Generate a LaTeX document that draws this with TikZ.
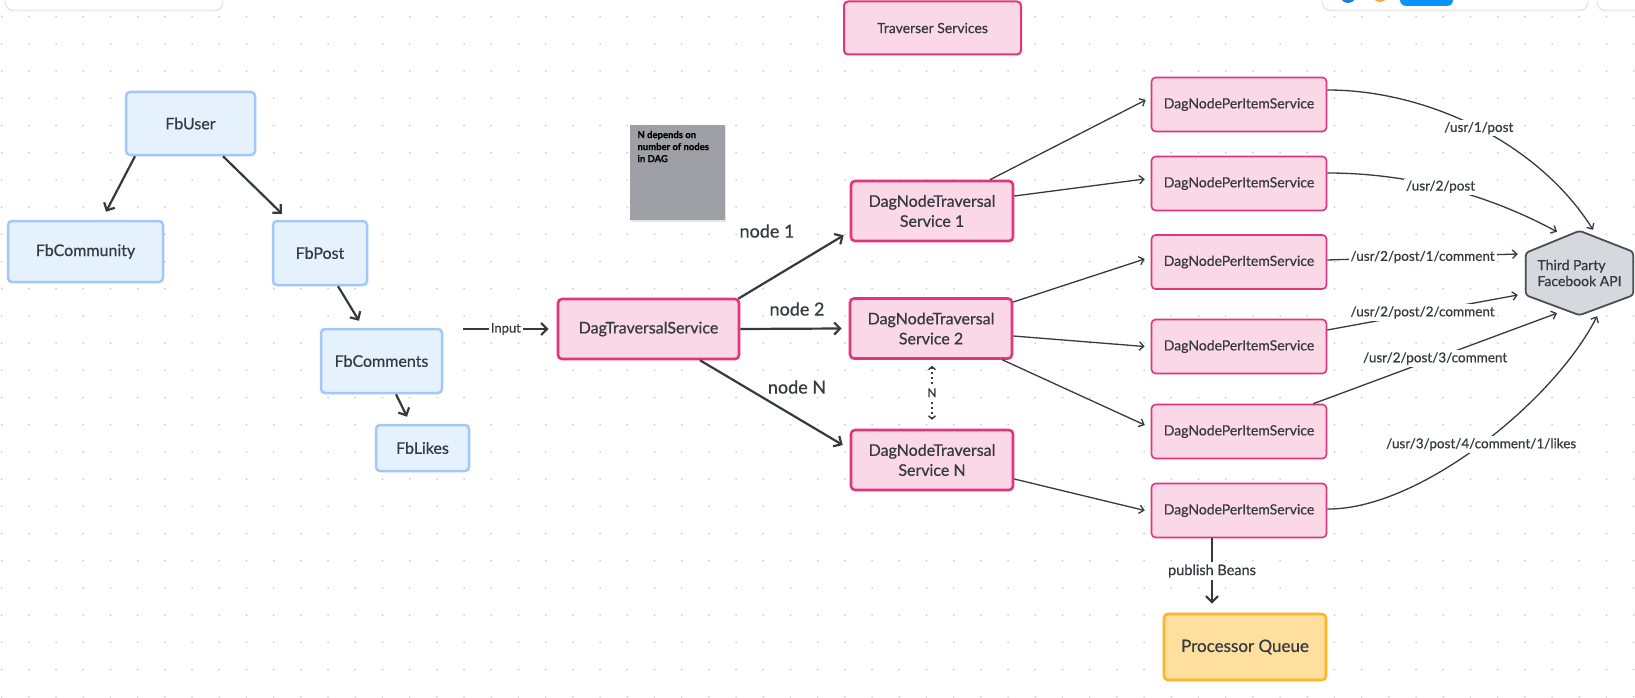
\documentclass[tikz,border=0pt]{standalone}
\usepackage{fontspec}
\setmainfont{Lato}[FakeBold=0.6]
\usetikzlibrary{arrows.meta,shadows}
\pgfdeclarelayer{dots}
\pgfdeclarelayer{background}
\pgfsetlayers{dots,background,main}
\definecolor{ink}{HTML}{363A40}
\definecolor{blueS}{HTML}{A3C8F8}
\definecolor{blueF}{HTML}{E6F1FE}
\definecolor{pinkS}{HTML}{E2367A}
\definecolor{pinkF}{HTML}{FAD8E7}
\definecolor{yelS}{HTML}{FDB52A}
\definecolor{yelF}{HTML}{FFDF9E}
\definecolor{hexF}{HTML}{D5D8DD}
\definecolor{hexS}{HTML}{4A4F57}
\definecolor{noteF}{HTML}{9EA0A5}
\definecolor{dotC}{HTML}{C8C8C8}
\definecolor{uiS}{HTML}{E2E2E2}
\definecolor{uiBlue}{HTML}{0A93FF}
\definecolor{uiDot}{HTML}{1E7FE0}
\definecolor{uiOrange}{HTML}{FFA53D}
\tikzset{
  box/.style={rounded corners=4pt, align=center, text=ink, inner sep=0pt},
  bluebox/.style={box, draw=blueS, fill=blueF, line width=2.5pt, font=\fontsize{16pt}{19pt}\selectfont},
  pinkbig/.style={box, draw=pinkS, fill=pinkF, line width=2.6pt, minimum width=162pt, minimum height=60pt, font=\fontsize{16pt}{20pt}\selectfont},
  pinksmall/.style={box, draw=pinkS, fill=pinkF, line width=1.6pt, minimum width=175pt, minimum height=54pt, font=\fontsize{14pt}{17pt}\selectfont},
  conn/.style={draw=ink, line width=2.2pt, -{Straight Barb[length=6pt,width=12pt]}},
  thinconn/.style={draw=ink, line width=1.3pt, -{Straight Barb[length=4.5pt,width=8.5pt]}},
  lbl/.style={fill=white, text=ink, inner sep=2pt, font=\fontsize{13.5pt}{16pt}\selectfont},
  biglbl/.style={text=ink, font=\fontsize{18pt}{21pt}\selectfont},
  uibox/.style={draw=uiS, fill=white, line width=0.8pt, rounded corners=8pt, drop shadow={opacity=0.12, shadow xshift=0pt, shadow yshift=-1.5pt}}
}
\begin{document}
\begin{tikzpicture}[x=1pt,y=-1pt]
\useasboundingbox (0,0) rectangle (1635,698);
\clip (0,0) rectangle (1635,698);
\begin{pgfonlayer}{dots}
\fill[white] (0,0) rectangle (1635,698);
\foreach \i in {0,...,60} {
  \foreach \j in {0,...,25} {
    \fill[dotC] (1.7+27.2*\i, 16.7+27.2*\j) circle (0.9);
  }
}
\end{pgfonlayer}

% UI chrome at the top
\path[uibox] (5,-12) rectangle (223,10);
\path[uibox] (1322,-12) rectangle (1588,10);
\path[uibox] (1597,-12) rectangle (1660,10);
\fill[uiDot] (1348,-5) circle (8);
\fill[uiOrange] (1380,-6) circle (8);
\fill[uiBlue, rounded corners=6pt] (1400,-12) rectangle (1453,6);

% left entity graph
\node[bluebox, minimum width=129pt, minimum height=63pt] (u) at (190.5,123.5) {FbUser};
\node[bluebox, minimum width=155pt, minimum height=61pt] (comm) at (85.5,251.5) {FbCommunity};
\node[bluebox, minimum width=94pt, minimum height=64pt] (post) at (320,253) {FbPost};
\node[bluebox, minimum width=121pt, minimum height=64pt] (cmt) at (381.5,361) {FbComments};
\node[bluebox, minimum width=93pt, minimum height=46pt] (likes) at (422.5,448) {FbLikes};

\draw[conn] ([xshift=-55.5pt]u.south) -- ([xshift=20.5pt,yshift=8pt]comm.north);
\draw[conn] ([xshift=32.5pt]u.south) -- ([xshift=-38pt,yshift=6pt]post.north);
\draw[conn] ([xshift=18pt]post.south) -- ([xshift=-22.5pt,yshift=7pt]cmt.north);
\draw[conn] ([xshift=14.5pt]cmt.south) -- ([xshift=-15.5pt,yshift=7pt]likes.north);

% note
\node[fill=noteF, minimum width=95pt, minimum height=95pt, inner sep=0pt,
      drop shadow={opacity=0.2, shadow xshift=1pt, shadow yshift=-2pt}] (note) at (677.5,172.5)
  {\parbox[t][83pt][t]{80pt}{\raggedright\color{black}\bfseries\fontsize{9.5pt}{12pt}\selectfont N depends on\\ number of nodes\\ in DAG}};

% traverser services
\node[box, draw=pinkS, fill=pinkF, line width=2pt, minimum width=177pt, minimum height=53pt,
      font=\fontsize{14pt}{17pt}\selectfont] (trav) at (932.5,28) {Traverser Services};

\node[pinkbig, minimum width=181pt] (dts) at (648.5,329) {DagTraversalService};
\node[pinkbig] (s1) at (932,211) {DagNodeTraversal\\Service 1};
\node[pinkbig] (s2) at (931,328.5) {DagNodeTraversal\\Service 2};
\node[pinkbig] (sn) at (932,460) {DagNodeTraversal\\Service N};

\coordinate (in) at (463,329);
\draw[conn] (in) -- node[lbl, font=\fontsize{13pt}{15pt}\selectfont] {Input} ([xshift=-8pt]dts.west);

\draw[conn] ([xshift=-2pt,yshift=-1pt]dts.north east) -- ([xshift=-6pt,yshift=7pt]s1.south west);
\draw[conn] (dts.east) -- ([xshift=-7pt]s2.west);
\draw[conn] ([xshift=51.5pt]dts.south) -- ([xshift=-7pt,yshift=15pt]sn.west);
\node[biglbl] (l1) at (767,231) {node 1};
\node[biglbl] (l2) at (797,309) {node 2};
\node[biglbl] (ln) at (797,387) {node N};

\draw[ink, line width=1.4pt, dash pattern=on 1.5pt off 3.5pt,
      {Straight Barb[length=3pt,width=7pt]}-{Straight Barb[length=3pt,width=7pt]}]
  ([xshift=1pt,yshift=-6pt]s2.south) -- node[fill=white, text=ink, inner sep=1.5pt, font=\fontsize{12pt}{14pt}\selectfont] {N} ([yshift=9pt]sn.north);

% per item services
\node[pinksmall] (p1) at (1239,104.5) {DagNodePerItemService};
\node[pinksmall] (p2) at (1239,183.5) {DagNodePerItemService};
\node[pinksmall] (p3) at (1239,262) {DagNodePerItemService};
\node[pinksmall] (p4) at (1239,346.5) {DagNodePerItemService};
\node[pinksmall] (p5) at (1239,431.5) {DagNodePerItemService};
\node[pinksmall] (p6) at (1239,510.5) {DagNodePerItemService};

\draw[thinconn] ([xshift=58pt]s1.north) -- ([xshift=-5pt,yshift=4.5pt]p1.west);
\draw[thinconn] ([yshift=15pt]s1.east) -- ([xshift=-6pt,yshift=4.5pt]p2.west);
\draw[thinconn] ([yshift=26.5pt]s2.east) -- ([xshift=-6pt,yshift=3pt]p3.west);
\draw[thinconn] ([yshift=-7.5pt]s2.east) -- ([xshift=-6pt]p4.west);
\draw[thinconn] ([xshift=-11pt]s2.south east) -- ([xshift=-6pt,yshift=6.5pt]p5.west);
\draw[thinconn] ([yshift=-19pt]sn.east) -- ([xshift=-6pt]p6.west);

% third party API
\node[text=ink, align=left, minimum width=107pt, minimum height=84pt, inner sep=0pt,
      font=\fontsize{14pt}{16pt}\selectfont] (api) at (1579.5,273) {Third Party\\Facebook API};
\begin{pgfonlayer}{background}
\draw[hexS, fill=hexF, line width=1.8pt, rounded corners=3pt, line join=round]
  (api.north) -- ([yshift=-21pt]api.north east) -- ([yshift=20pt]api.south east) -- (api.south)
  -- ([yshift=20pt]api.south west) -- ([yshift=-22pt]api.north west) -- cycle;
\end{pgfonlayer}

\draw[thinconn] ([yshift=14.5pt]p1.east) .. controls (1430,90) and (1540,145) ..
  node[lbl] {/usr/1/post} ([xshift=13.5pt,yshift=1pt]api.north);
\draw[thinconn] ([yshift=10.5pt]p2.east) .. controls (1400,173) and (1480,190) ..
  node[lbl] {/usr/2/post} ([xshift=-22.5pt,yshift=-1pt]api.north);
\draw[thinconn] ([yshift=2pt]p3.east) -- node[lbl] {/usr/2/post/1/comment} ([xshift=-8pt,yshift=19pt]api.west);
\draw[thinconn] ([yshift=16.5pt]p4.east) -- node[lbl] {/usr/2/post/2/comment} ([xshift=-8pt,yshift=-22pt]api.west);
\draw[thinconn] ([xshift=-14pt]p5.north east) -- node[lbl] {/usr/2/post/3/comment} ([xshift=-22.5pt,yshift=2pt]api.south);
\draw[thinconn] ([yshift=1.5pt]p6.east) .. controls (1420,510) and (1555,400) ..
  node[lbl] {/usr/3/post/4/comment/1/likes} ([xshift=17.5pt,yshift=-1pt]api.south);

% processor queue
\node[box, draw=yelS, fill=yelF, line width=2.6pt, minimum width=162pt, minimum height=66pt,
      font=\fontsize{17pt}{20pt}\selectfont] (queue) at (1245,647) {Processor Queue};
\draw[conn] ([xshift=-27pt]p6.south) -- node[lbl, font=\fontsize{14.5pt}{17pt}\selectfont] {publish Beans} ([xshift=-33pt,yshift=9pt]queue.north);
\end{tikzpicture}
\end{document}
